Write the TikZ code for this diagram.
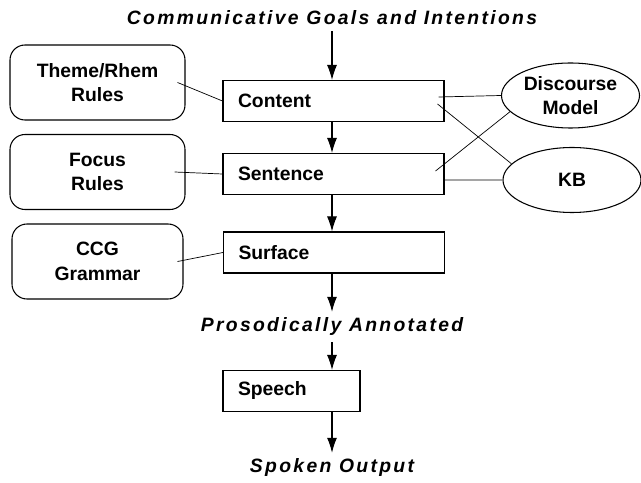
\documentclass[tikz,border=0pt]{standalone}
\usepackage{fontspec}
\setmainfont{Liberation Sans}
\newfontfamily\wideitfont[LetterSpace=12]{Liberation Sans}
\usetikzlibrary{arrows.meta,shapes.geometric}

\begin{document}
\begin{tikzpicture}[
		stage/.style={draw, semithick, minimum height=0.82cm, inner xsep=0.3cm, text width=#1, align=left, font=\fontsize{11}{14}\selectfont\bfseries},
		rulebox/.style={draw, semithick, rounded corners=0.3cm, minimum width=3.5cm, minimum height=1.5cm, align=center, font=\fontsize{11}{14}\selectfont\bfseries},
		store/.style={draw, semithick, ellipse, inner sep=0pt, minimum width=2.76cm, minimum height=1.3cm, align=center, font=\fontsize{11}{14}\selectfont\bfseries},
		stream/.style={font=\fontsize{11}{14}\selectfont\wideitfont\bfseries\itshape},
		flow/.style={-{Latex[length=0.3cm, width=0.2cm]}, semithick},
		link/.style={thin}]
		\useasboundingbox (0, 0) rectangle (12.82, 9.64);
		% pipeline
		\node[stream] (goals) at (6.64, 9.28) {Communicative Goals and Intentions};
		\node[stage=3.82cm] (content) at (6.67, 7.62) {Content};
		\node[stage=3.82cm] (sentence) at (6.67, 6.16) {Sentence};
		\node[stage=3.82cm] (surface) at (6.68, 4.59) {Surface};
		\node[stream] (prosody) at (6.64, 3.10) {Prosodically Annotated};
		\node[stage=2.14cm] (speech) at (5.83, 1.82) {Speech};
		\node[stream] (spoken) at (6.64, 0.28) {Spoken Output};
		
		% knowledge sources
		\node[rulebox] (theme) at (1.95, 7.99) {Theme/Rhem\\Rules};
		\node[rulebox] (focus) at (1.95, 6.20) {Focus\\Rules};
		\node[rulebox, minimum width=3.42cm] (ccg) at (1.95, 4.41) {CCG\\Grammar};
		\node[store] (discourse) at (11.41, 7.73) {Discourse\\Model};
		\node[store] (kb) at (11.44, 6.04) {KB};
		
		\draw[flow] (goals.south) -- (goals.south |- content.north);
		\draw[flow] (goals |- content.south) -- (goals |- sentence.north);
		\draw[flow] (goals |- sentence.south) -- (goals |- surface.north);
		\draw[flow] (goals |- surface.south) -- (prosody.north);
		\draw[flow] (prosody.south) -- (prosody |- speech.north);
		\draw[flow] (prosody |- speech.south) -- (spoken.north);
		
		\draw[link] ([xshift=-0.16cm]theme.east) -- (content.west);
		\draw[link] ([xshift=-0.22cm]focus.east) -- (sentence.west);
		\draw[link] ([xshift=-0.12cm]ccg.east) -- (surface.west);
		\draw[link] ([xshift=-0.12cm, yshift=0.08cm]content.east) -- (discourse.west);
		\draw[link] ([xshift=-0.14cm, yshift=-0.06cm]content.east) -- (kb.165);
		\draw[link] ([xshift=-0.18cm, yshift=0.06cm]sentence.east) -- (discourse.195);
		\draw[link] ([yshift=-0.12cm]sentence.east) -- (kb.west);
\end{tikzpicture}
\end{document}
